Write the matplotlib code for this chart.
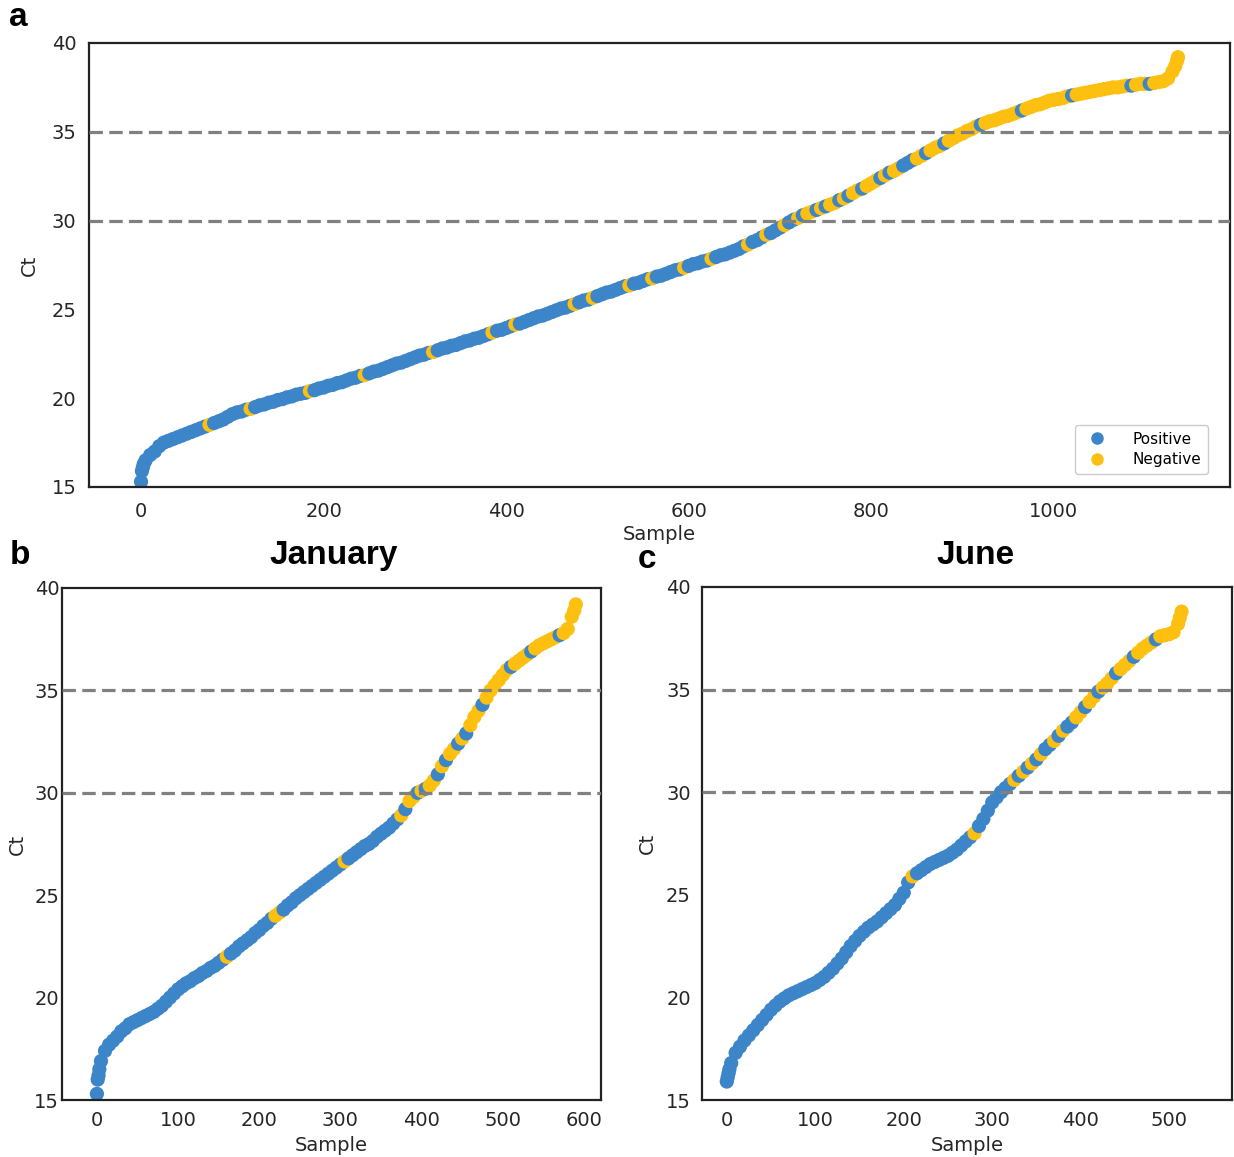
import numpy as np
import matplotlib
matplotlib.use("Agg")
import matplotlib.pyplot as plt
from matplotlib.lines import Line2D

# ---------------- data (Ct values read every 5 samples) ----------------
STEP = 5

a_ct = [
    15.3, 16.5, 16.8, 17.0, 17.3, 17.5, 17.6, 17.7, 17.8, 17.9,
    18.0, 18.1, 18.2, 18.3, 18.4, 18.5, 18.6, 18.7, 18.8, 18.95,
    19.1, 19.2, 19.25, 19.35, 19.4, 19.5, 19.6, 19.65, 19.75, 19.8,
    19.9, 19.95, 20.05, 20.1, 20.2, 20.25, 20.3, 20.4, 20.45, 20.55,
    20.6, 20.7, 20.75, 20.85, 20.9, 21.0, 21.1, 21.15, 21.25, 21.3,
    21.4, 21.5, 21.55, 21.65, 21.75, 21.85, 21.95, 22.0, 22.1, 22.2,
    22.3, 22.4, 22.45, 22.55, 22.6, 22.7, 22.8, 22.85, 22.95, 23.0,
    23.1, 23.2, 23.25, 23.35, 23.4, 23.5, 23.6, 23.7, 23.8, 23.85,
    23.95, 24.05, 24.15, 24.2, 24.3, 24.4, 24.5, 24.6, 24.65, 24.75,
    24.85, 24.95, 25.05, 25.1, 25.2, 25.3, 25.4, 25.5, 25.55, 25.65,
    25.75, 25.85, 25.95, 26.0, 26.1, 26.2, 26.3, 26.35, 26.45, 26.5,
    26.6, 26.7, 26.75, 26.85, 26.9, 27.0, 27.1, 27.2, 27.25, 27.35,
    27.45, 27.55, 27.6, 27.7, 27.75, 27.85, 27.95, 28.05, 28.1, 28.2,
    28.3, 28.4, 28.55, 28.65, 28.8, 28.9, 29.05, 29.2, 29.3, 29.45,
    29.6, 29.75, 29.9, 30.05, 30.15, 30.3, 30.4, 30.5, 30.6, 30.7,
    30.8, 30.9, 31.0, 31.15, 31.25, 31.4, 31.55, 31.7, 31.8, 31.95,
    32.1, 32.25, 32.4, 32.55, 32.7, 32.8, 32.95, 33.1, 33.25, 33.4,
    33.5, 33.65, 33.8, 33.95, 34.1, 34.2, 34.35, 34.5, 34.65, 34.8,
    34.9, 35.05, 35.15, 35.3, 35.4, 35.5, 35.6, 35.65, 35.75, 35.85,
    35.9, 36.0, 36.1, 36.2, 36.3, 36.4, 36.5, 36.55, 36.65, 36.75,
    36.8, 36.85, 36.9, 37.0, 37.05, 37.1, 37.15, 37.2, 37.25, 37.3,
    37.35, 37.4, 37.45, 37.5, 37.5, 37.55, 37.6, 37.6, 37.65, 37.7,
    37.7, 37.7, 37.75, 37.8, 37.85, 38.0, 38.4, 39.0,
]
a_lab = ("PPPPPPPPPP" "PPPPPNPPPP" "PPPPNPPPPP" "PPPPPPPNPP" "PPPPPPPPPN"
         "PPPPPPPPPP" "PPPPNPPPPP" "PPPPPPPNPP" "PPNPPPPPPP" "PPPPPNPPPN"
         "PPPPPPPNPP" "PPNPPPPPPN" "PPPPPNPPPP" "PPPNPPPNPP" "PNPPNPNNPN"
         "PNNPNPNNPN" "NNPNPNNPPP" "NNPNNNPNNN" "NNNNPNNNNN" "NNNPNNNNNN"
         "NNNNPNNNNN" "NNNNNNNPNN" "NPNNNNNN")
a_extra_sample = [1, 2, 3, 1133, 1136]
a_extra_ct = [15.9, 16.1, 16.3, 38.7, 39.2]
a_extra_lab = "PPPNN"

b_ct = [
    15.3, 16.9, 17.4, 17.7, 17.9, 18.1, 18.35, 18.5, 18.7, 18.8,
    18.9, 19.0, 19.1, 19.2, 19.3, 19.45, 19.6, 19.8, 20.0, 20.2,
    20.4, 20.55, 20.7, 20.8, 20.95, 21.05, 21.2, 21.3, 21.45, 21.55,
    21.7, 21.85, 22.0, 22.15, 22.3, 22.5, 22.65, 22.8, 22.95, 23.15,
    23.3, 23.5, 23.65, 23.85, 24.0, 24.15, 24.3, 24.5, 24.65, 24.85,
    25.0, 25.15, 25.3, 25.45, 25.6, 25.75, 25.9, 26.05, 26.2, 26.35,
    26.5, 26.65, 26.8, 26.95, 27.1, 27.25, 27.4, 27.5, 27.65, 27.85,
    28.0, 28.15, 28.3, 28.5, 28.7, 28.9, 29.2, 29.6, 29.8, 30.0,
    30.1, 30.2, 30.35, 30.6, 30.9, 31.3, 31.6, 31.9, 32.15, 32.4,
    32.65, 32.9, 33.3, 33.7, 34.0, 34.3, 34.65, 35.0, 35.25, 35.5,
    35.75, 36.0, 36.15, 36.3, 36.45, 36.6, 36.75, 36.9, 37.05, 37.2,
    37.3, 37.4, 37.5, 37.6, 37.7, 37.8, 38.0, 38.6, 39.2,
]
b_lab = ("PPPPPPPPPP" "PPPPPPPPPP" "PPPPPPPPPP" "PPNPPPPPPP" "PPPPNNPPPP"
         "PPPPPPPPPP" "PNPPPPPPPP" "PPPPPNPNNP" "NPNNPNPNNP" "NPNNNPNNNN"
         "NNPNNNNPNN" "NNNNPNNNN")
b_extra_sample = [1, 2, 3, 588]
b_extra_ct = [16.0, 16.2, 16.5, 38.9]
b_extra_lab = "PPPN"

c_ct = [
    15.9, 16.8, 17.3, 17.6, 17.9, 18.15, 18.4, 18.65, 18.9, 19.15,
    19.4, 19.6, 19.8, 19.95, 20.1, 20.2, 20.3, 20.4, 20.5, 20.6,
    20.7, 20.85, 21.0, 21.2, 21.4, 21.65, 21.9, 22.2, 22.5, 22.75,
    23.0, 23.2, 23.4, 23.55, 23.7, 23.9, 24.1, 24.3, 24.5, 24.8,
    25.1, 25.6, 25.9, 26.05, 26.2, 26.35, 26.5, 26.6, 26.7, 26.8,
    26.9, 27.05, 27.2, 27.4, 27.6, 27.8, 28.0, 28.35, 28.7, 29.1,
    29.5, 29.75, 30.0, 30.2, 30.4, 30.6, 30.8, 31.0, 31.2, 31.4,
    31.6, 31.85, 32.1, 32.3, 32.5, 32.75, 33.0, 33.2, 33.4, 33.65,
    33.9, 34.15, 34.4, 34.65, 34.9, 35.1, 35.3, 35.55, 35.8, 36.0,
    36.2, 36.4, 36.6, 36.8, 37.0, 37.15, 37.3, 37.45, 37.6, 37.65,
    37.7, 37.8, 38.2,
]
c_lab = ("PPPPPPPPPP" "PPPPPPPPPP" "PPPPPPPPPP" "PPPPPPPPPP" "PPNPPPPPPP"
         "PPPPPPNPPP" "PPPPPNPNPN" "PNPPNPNPPN" "NPNNPNNNPN" "NNPNNNNPNN"
         "NNN")
c_extra_sample = [1, 2, 3, 512, 514]
c_extra_ct = [16.1, 16.3, 16.5, 38.5, 38.8]
c_extra_lab = "PPPNN"

thresholds = [30, 35]
y_ticks = [15, 20, 25, 30, 35, 40]
a_xticks = [0, 200, 400, 600, 800, 1000]
b_xticks = [0, 100, 200, 300, 400, 500, 600]
c_xticks = [0, 100, 200, 300, 400, 500]

# ---------------- style ----------------
BLUE = "#3d85c9"
YELLOW = "#fdc010"
TXT = "#262626"
W, H = 1234, 1157
fig = plt.figure(figsize=(W / 100, H / 100), dpi=100)
fig.patch.set_facecolor("white")


def build(ct, lab, ex_s, ex_ct, ex_lab):
    s = list(np.arange(len(ct)) * STEP) + list(ex_s)
    v = list(ct) + list(ex_ct)
    l = list(lab) + list(ex_lab)
    order = np.argsort(s, kind="stable")
    s = np.array(s)[order]
    v = np.array(v)[order]
    l = np.array(l)[order]
    return s, v, l


def px_axes(l, r, t, b):
    return fig.add_axes([l / W, 1 - b / H, (r - l) / W, (b - t) / H])


def panel(ax, data, xlim, xticks, xpad, ypad, labelpad_x, ylab_x_px):
    s, v, l = data
    cols = [BLUE if c == "P" else YELLOW for c in l]
    ax.scatter(s, v, c=cols, s=105, linewidths=0, zorder=2)
    for t in thresholds:
        ax.axhline(t, color="#808080", lw=2.3, ls=(0, (4.2, 2.0)), zorder=3)
    ax.set_xlim(*xlim)
    ax.set_ylim(15, 40)
    ax.set_yticks(y_ticks)
    ax.set_xticks(xticks)
    ax.tick_params(length=0, labelsize=14, colors=TXT)
    ax.tick_params(axis="x", pad=xpad)
    ax.tick_params(axis="y", pad=ypad)
    for sp in ax.spines.values():
        sp.set_linewidth(1.6)
        sp.set_color("#222222")
    ax.set_xlabel("Sample", fontsize=14, color=TXT, labelpad=labelpad_x)
    ax.set_ylabel("Ct", fontsize=14, color=TXT)
    bb = ax.get_position()
    ax.yaxis.set_label_coords((ylab_x_px / W - bb.x0) / bb.width, 0.5)


ax_a = px_axes(89, 1230, 43, 487)
panel(ax_a, build(a_ct, a_lab, a_extra_sample, a_extra_ct, a_extra_lab),
      (-57, 1193), a_xticks, 11, 9, 3, 39)
handles = [Line2D([], [], marker="o", ls="", color=BLUE, markersize=8, label="Positive"),
           Line2D([], [], marker="o", ls="", color=YELLOW, markersize=8, label="Negative")]
ax_a.legend(handles=handles, loc="lower right", fontsize=11,
            bbox_to_anchor=(1 - 22 / 1141, 13 / 444), borderaxespad=0,
            frameon=True, fancybox=True, edgecolor="#cccccc", framealpha=1,
            handletextpad=1.3, borderpad=0.45, labelspacing=0.35)

ax_b = px_axes(62, 601, 588, 1100)
panel(ax_b, build(b_ct, b_lab, b_extra_sample, b_extra_ct, b_extra_lab),
      (-43, 621), b_xticks, 8, 2, 4, 27)

ax_c = px_axes(702, 1232, 587, 1100)
panel(ax_c, build(c_ct, c_lab, c_extra_sample, c_extra_ct, c_extra_lab),
      (-28, 571), c_xticks, 8, 8, 4, 657)

# titles and panel letters
fig.text(334 / W, 1 - 556 / H, "January", ha="center", va="center",
         fontsize=24, fontweight="bold", family="Liberation Sans", color="black")
fig.text(976 / W, 1 - 556 / H, "June", ha="center", va="center",
         fontsize=24, fontweight="bold", family="Liberation Sans", color="black")
for letter, (x, y) in {"a": (18, 17), "b": (20, 556), "c": (647, 559)}.items():
    fig.text(x / W, 1 - y / H, letter, ha="center", va="center",
             fontsize=24, fontweight="bold", family="Liberation Sans", color="black")

fig.savefig("out.png", dpi=100, facecolor="white")
